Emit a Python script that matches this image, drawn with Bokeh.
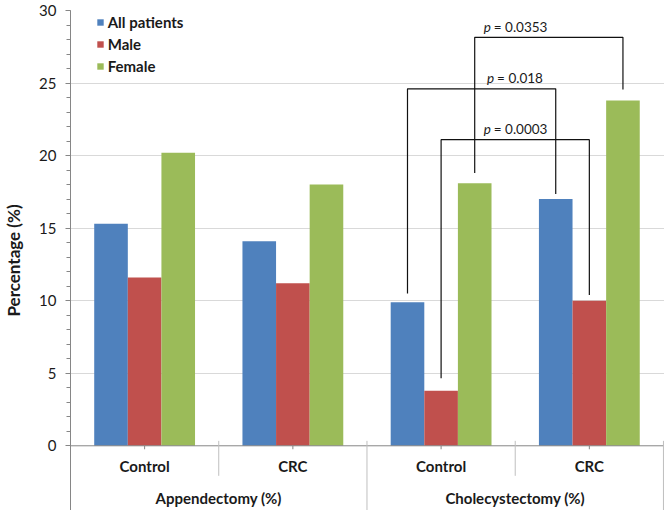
import numpy as np
from bokeh.plotting import figure
from bokeh.models import ColumnDataSource, FixedTicker, Range1d
from bokeh.core.properties import value
from bokeh.embed import file_html
from bokeh.resources import INLINE

# ---------------- data ----------------
groups = ["Appendectomy (%)", "Cholecystectomy (%)"]
subgroups = ["Control", "CRC", "Control", "CRC"]
series = ["All patients", "Male", "Female"]
all_patients = [15.3, 14.1, 9.9, 17.0]
male = [11.6, 11.2, 3.8, 10.0]
female = [20.2, 18.0, 18.1, 23.8]
y_ticks = [0, 5, 10, 15, 20, 25, 30]

# significance brackets (category index, series index)
br_left_cat = [2, 2, 2]
br_left_ser = [2, 0, 1]
br_right_cat = [3, 3, 3]
br_right_ser = [2, 0, 1]
br_top = [28.15, 24.6, 21.1]
br_left_bottom = [18.8, 10.5, 4.65]
br_right_bottom = [24.55, 17.35, 10.4]
p_values = ["0.0353", "0.018", "0.0003"]

# ---------------- style ----------------
colors = ["#4F81BD", "#C0504D", "#9BBB59"]
FONT = "Lato"
AXIS = "#868686"
TXT = "#1a1a1a"
BW = 0.2267  # bar width in category units
Y0 = -4.46

p = figure(width=664, height=510, x_range=Range1d(0, 4.007), y_range=Range1d(Y0, 30),
           output_backend="svg", toolbar_location=None, x_axis_type=None,
           min_border_left=63, min_border_right=0, min_border_top=10, min_border_bottom=0)
p.outline_line_color = None
p.background_fill_color = "white"

# y axis
yax = p.yaxis[0]
yax.ticker = FixedTicker(ticks=y_ticks, minor_ticks=list(range(0, 31)))
yax.axis_line_color = AXIS
yax.major_tick_line_color = AXIS
yax.minor_tick_line_color = AXIS
yax.major_tick_out = 5
yax.major_tick_in = 0
yax.minor_tick_out = 4
yax.minor_tick_in = 0
yax.major_label_text_font = FONT
yax.major_label_text_font_size = "15px"
yax.major_label_text_color = TXT
yax.major_label_standoff = 9
yax.axis_label = "Percentage (%)"
yax.axis_label_text_font = FONT
yax.axis_label_text_font_size = "17px"
yax.axis_label_text_font_style = "bold"
yax.axis_label_text_color = TXT
yax.axis_label_standoff = 12
p.ygrid.ticker = FixedTicker(ticks=y_ticks[1:])
p.ygrid.grid_line_color = "#D9D9D9"

# bars
ncat = len(subgroups)
centers = np.arange(ncat) + 0.5
for i, (name, vals) in enumerate(zip(series, [all_patients, male, female])):
    src = ColumnDataSource(dict(x=centers + (i - 1) * BW, top=vals))
    p.vbar(x="x", top="top", bottom=0, width=BW, source=src, fill_color=colors[i],
           line_color=None, legend_label=name)

# horizontal axis line and category separators
p.segment(x0=[-0.05], y0=[0], x1=[4.007], y1=[0], line_color=AXIS, line_width=1)
inner_sep = [1, 3]
outer_sep = [2, 4]
p.segment(x0=inner_sep, y0=[0.34] * 2, x1=inner_sep, y1=[-2.07] * 2, line_color="#BFBFBF", line_width=1)
p.segment(x0=outer_sep, y0=[0.34] * 2, x1=outer_sep, y1=[Y0] * 2, line_color="#BFBFBF", line_width=1)
p.segment(x0=list(centers), y0=[0] * ncat, x1=list(centers), y1=[-0.24] * ncat, line_color=AXIS, line_width=1)

# category labels
p.text(x=list(centers), y=[-1.38] * ncat, text=subgroups, text_align="center", text_baseline="middle",
       text_font=value(FONT), text_font_size="15px", text_font_style="bold", text_color=TXT)
p.text(x=[1.0, 3.0], y=[-3.63] * 2, text=groups, text_align="center", text_baseline="middle",
       text_font=value(FONT), text_font_size="15px", text_font_style="bold", text_color=TXT)

# brackets
xl = [c + 0.5 + (s - 1) * BW for c, s in zip(br_left_cat, br_left_ser)]
xr = [c + 0.5 + (s - 1) * BW for c, s in zip(br_right_cat, br_right_ser)]
xs = [[a, a, b, b] for a, b in zip(xl, xr)]
ys = [[lb, t, t, rb] for lb, t, rb in zip(br_left_bottom, br_top, br_right_bottom)]
p.multi_line(xs=xs, ys=ys, line_color="#111111", line_width=1.2)

# p-value labels: italic "p" + "= value", centred on the boundary between the two categories
label_x = [3.0] * len(p_values)
label_y = [t + 0.72 for t in br_top]
rest = ["= " + v for v in p_values]
half_w = [(len(r) * 6.6 + 10) / 2 for r in rest]
split_off = [-h + 7 for h in half_w]
p.text(x=label_x, y=label_y, text=["p"] * len(p_values), x_offset=split_off, text_align="right",
       text_baseline="middle", text_font=value(FONT), text_font_size="13.5px",
       text_font_style="italic", text_color=TXT)
p.text(x=label_x, y=label_y, text=rest, x_offset=[s + 3 for s in split_off], text_align="left",
       text_baseline="middle", text_font=value(FONT), text_font_size="13.5px", text_color=TXT)

# legend
lg = p.legend[0]
lg.location = (25.7, 434)
lg.background_fill_alpha = 0
lg.border_line_color = None
lg.label_text_font = FONT
lg.label_text_font_size = "15px"
lg.label_text_font_style = "bold"
lg.label_text_color = TXT
lg.glyph_width = 8
lg.glyph_height = 8
lg.label_height = 20
lg.spacing = 2
lg.padding = 0
lg.margin = 0
lg.label_standoff = 4

open("out.html", "w").write(file_html(p, INLINE))
